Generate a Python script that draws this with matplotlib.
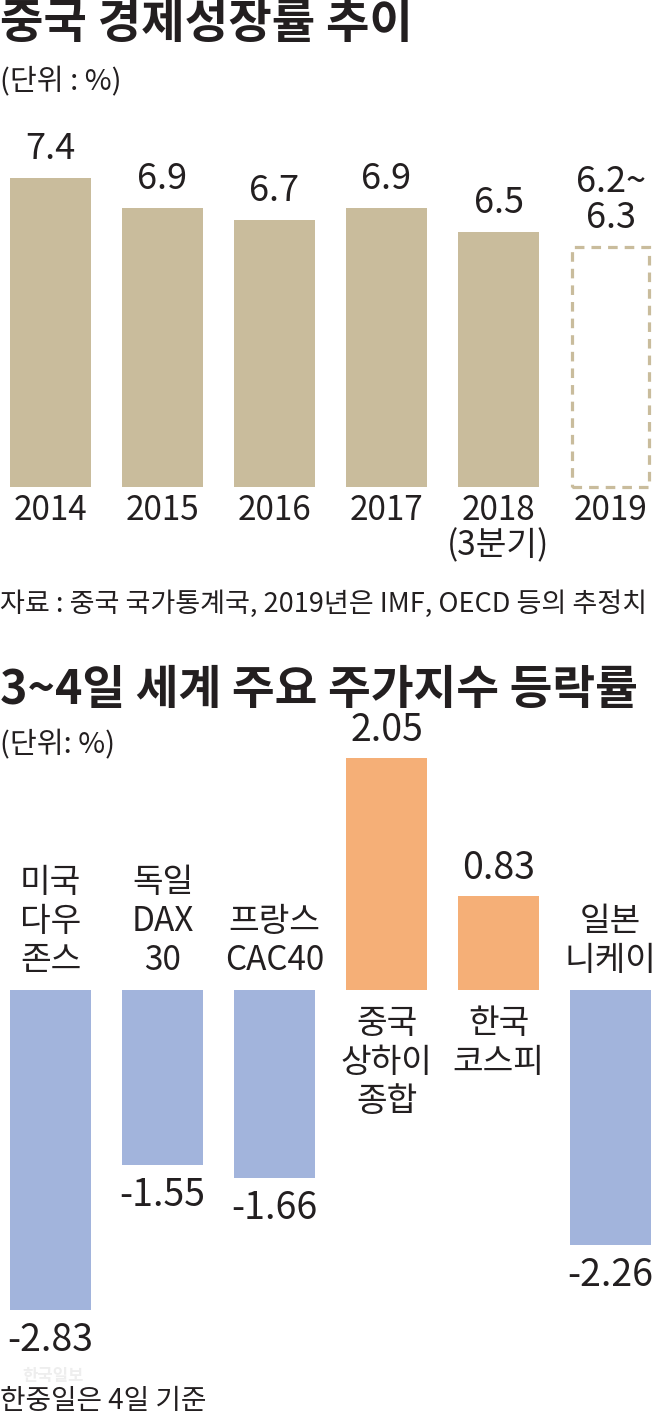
import matplotlib
matplotlib.use("Agg")
import matplotlib.pyplot as plt

plt.rcParams['font.family'] = ['Noto Sans CJK KR', 'DejaVu Sans']

# ---- data ----
years = ['2014', '2015', '2016', '2017', '2018\n(3분기)', '2019']
growth = [7.4, 6.9, 6.7, 6.9, 6.5, 6.25]
growth_labels = ['7.4', '6.9', '6.7', '6.9', '6.5', '6.2~\n6.3']
estimated = [False, False, False, False, False, True]

indices = ['미국\n다우\n존스', '독일\nDAX\n30', '프랑스\nCAC40',
           '중국\n상하이\n종합', '한국\n코스피', '일본\n니케이']
changes = [-2.83, -1.55, -1.66, 2.05, 0.83, -2.26]

TAN = '#c9bc9c'
BLUE = '#a2b4dc'
ORANGE = '#f5af77'
INK = '#231f20'

W, H = 661, 1423
fig = plt.figure(figsize=(W / 100, H / 100), dpi=100)
fig.patch.set_facecolor('white')


def fy(py):
    return 1 - py / H


def px2pt(p):
    return p / (100 / 72)


# ---- top chart ----
top_px, bot_px = 120, 487
base = 2.25
ax1 = fig.add_axes([0, fy(bot_px), 1, (bot_px - top_px) / H])
ax1.set_xlim(-50.5 / 112, (W - 50.5) / 112)
ax1.set_ylim(base, base + (bot_px - top_px) / 60)
ax1.axis('off')

for i, (v, lab, est) in enumerate(zip(growth, growth_labels, estimated)):
    if est:
        ax1.bar(i, v - base, bottom=base, width=0.69, fill=False,
                edgecolor=TAN, linewidth=2.3, linestyle=(0, (3, 2.2)),
                clip_on=False)
    else:
        ax1.bar(i, v - base, bottom=base, width=0.723, color=TAN, clip_on=False)
    ax1.annotate(lab, (i, v), xytext=(0, px2pt(19)), textcoords='offset points',
                 ha='center', va='baseline', fontsize=26, color=INK,
                 linespacing=1.0)

for i, yr in enumerate(years):
    ax1.annotate(yr, (i, base), xytext=(0, -px2pt(6)), textcoords='offset points',
                 ha='center', va='top', fontsize=24, color=INK, linespacing=1.0,
                 annotation_clip=False)

fig.text(0, fy(24), '중국 경제성장률 추이', fontsize=34, fontweight='black',
         color=INK, ha='left', va='center')
fig.text(0, fy(82), '(단위 : %)', fontsize=21, color=INK, ha='left', va='center')
fig.text(0, fy(604), '자료 : 중국 국가통계국, 2019년은 IMF, OECD 등의 추정치',
         fontsize=19.5, color=INK, ha='left', va='center')

# ---- bottom chart ----
zero_px = 990
k = 113
b_top, b_bot = 700, 1350
ax2 = fig.add_axes([0, fy(b_bot), 1, (b_bot - b_top) / H])
ax2.set_xlim(-50.5 / 112, (W - 50.5) / 112)
ax2.set_ylim(-(b_bot - zero_px) / k, (zero_px - b_top) / k)
ax2.axis('off')

for i, (name, v) in enumerate(zip(indices, changes)):
    col = ORANGE if v > 0 else BLUE
    ax2.bar(i, v, width=0.723, color=col, clip_on=False)
    txt = f'{v:.2f}'
    if v > 0:
        ax2.annotate(txt, (i, v), xytext=(0, px2pt(17)), textcoords='offset points',
                     ha='center', va='baseline', fontsize=27, fontweight='medium',
                     color=INK, annotation_clip=False)
        ax2.annotate(name, (i, 0), xytext=(0, -px2pt(16)), textcoords='offset points',
                     ha='center', va='top', fontsize=24, color=INK,
                     linespacing=1.15, annotation_clip=False)
    else:
        ax2.annotate(txt, (i, v), xytext=(0, -px2pt(11)), textcoords='offset points',
                     ha='center', va='top', fontsize=27, fontweight='medium',
                     color=INK, annotation_clip=False)
        ax2.annotate(name, (i, 0), xytext=(0, px2pt(12)), textcoords='offset points',
                     ha='center', va='bottom', fontsize=24, color=INK,
                     linespacing=1.15, annotation_clip=False)

fig.text(0, fy(690), '3~4일 세계 주요 주가지수 등락률', fontsize=33.5,
         fontweight='black', color=INK, ha='left', va='center')
fig.text(0, fy(745), '(단위: %)', fontsize=21, color=INK, ha='left', va='center')
fig.text(22 / W, fy(1376), '한국일보', fontsize=12, fontweight='bold',
         color='#eeeeee', ha='left', va='center', zorder=0)
fig.text(0, fy(1401), '한중일은 4일 기준', fontsize=20, color=INK,
         ha='left', va='center')

fig.savefig('out.png', dpi=100, facecolor='white')
